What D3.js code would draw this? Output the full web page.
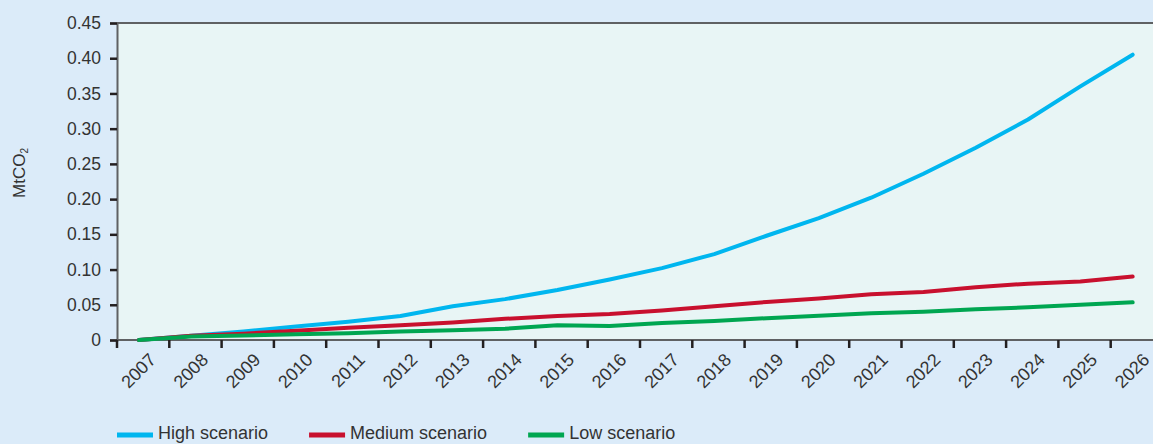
<!DOCTYPE html>
<html>
<head>
<meta charset="utf-8">
<script src="https://cdn.jsdelivr.net/npm/d3@7"></script>
<style>
  html, body { margin: 0; padding: 0; background: #dbebf9; }
  svg { display: block; font-family: "Liberation Sans", Arial, sans-serif; }
</style>
</head>
<body>
<div id="chart"></div>
<script>
// CO2 savings scenarios, 2007-2026 (MtCO2)
const years = d3.range(2007, 2027);
const highScenario = [0, 0.006, 0.012, 0.019, 0.026, 0.034, 0.048, 0.058, 0.071, 0.086,
                      0.102, 0.122, 0.148, 0.173, 0.202, 0.236, 0.273, 0.313, 0.360, 0.405];
const mediumScenario = [0, 0.006, 0.009, 0.013, 0.0175, 0.021, 0.025, 0.030, 0.034, 0.037,
                        0.042, 0.048, 0.054, 0.059, 0.065, 0.068, 0.075, 0.080, 0.083, 0.090];
const lowScenario = [0, 0.005, 0.0065, 0.008, 0.0095, 0.012, 0.014, 0.016, 0.021, 0.020,
                     0.024, 0.027, 0.031, 0.0345, 0.038, 0.040, 0.0435, 0.0465, 0.050, 0.0535];
const yTicks = [0, 0.05, 0.10, 0.15, 0.20, 0.25, 0.30, 0.35, 0.40, 0.45];

const series = [
    { name: 'High scenario', values: highScenario, color: '#00b6ef' },
    { name: 'Medium scenario', values: mediumScenario, color: '#c8102e' },
    { name: 'Low scenario', values: lowScenario, color: '#00a651' }
];

const W = 1153, H = 444;
const margin = { top: 23, left: 117, bottom: 104 };
const plotBottom = H - margin.bottom;

const svg = d3.select('#chart').append('svg')
    .attr('width', W).attr('height', H);

// x: one band per year, tick at band start, point a little right of it
const x = d3.scaleBand()
    .domain(years)
    .range([margin.left, margin.left + 20 * 52.3])
    .padding(0);
const px = yr => x(yr) + x.bandwidth() * 0.42;

const y = d3.scaleLinear().domain([0, 0.45]).range([plotBottom, margin.top]);

// plot background
svg.append('rect')
    .attr('x', margin.left).attr('y', margin.top)
    .attr('width', W - margin.left + 10).attr('height', plotBottom - margin.top)
    .attr('fill', '#e8f5f5');

// top border
svg.append('line')
    .attr('x1', margin.left).attr('x2', W)
    .attr('y1', margin.top).attr('y2', margin.top)
    .attr('stroke', '#5f6163').attr('stroke-width', 2);

// y axis
const yAxis = svg.append('g')
    .attr('transform', `translate(${margin.left},0)`)
    .call(d3.axisLeft(y).tickValues(yTicks).tickSize(7).tickPadding(9)
        .tickFormat(d => d === 0 ? '0' : d3.format('.2f')(d)));
yAxis.select('.domain').attr('stroke', '#5f6163').attr('stroke-width', 2);
yAxis.selectAll('.tick line').attr('stroke', '#231f20').attr('stroke-width', 2.5);
yAxis.selectAll('.tick text')
    .attr('fill', '#333').style('font-size', '17.5px').style('font-family', '"Liberation Sans", Arial, sans-serif');

// x axis
const xAxis = svg.append('g')
    .attr('transform', `translate(0,${plotBottom})`);
xAxis.append('line')
    .attr('x1', margin.left).attr('x2', W)
    .attr('stroke', '#5f6163').attr('stroke-width', 2);
xAxis.selectAll('.xtick')
    .data(years)
    .enter().append('line')
    .attr('class', 'xtick')
    .attr('x1', d => x(d)).attr('x2', d => x(d))
    .attr('y1', 0).attr('y2', 8)
    .attr('stroke', '#231f20').attr('stroke-width', 2.5);
xAxis.selectAll('.xlabel')
    .data(years)
    .enter().append('text')
    .attr('class', 'xlabel')
    .attr('transform', d => `translate(${px(d) + 18},21) rotate(-45)`)
    .attr('text-anchor', 'end')
    .attr('fill', '#333')
    .style('font-size', '18px')
    .text(d => d);

// y title
svg.append('text')
    .attr('transform', 'translate(25,173) rotate(-90)')
    .attr('text-anchor', 'middle')
    .attr('fill', '#333')
    .style('font-size', '17px')
    .text('MtCO')
    .append('tspan')
    .attr('dy', 3)
    .style('font-size', '10px')
    .text('2');

// lines
const line = d3.line()
    .x((d, i) => px(years[i]))
    .y(d => y(d));

svg.append('g').selectAll('path')
    .data(series)
    .enter().append('path')
    .attr('d', d => line(d.values))
    .attr('fill', 'none')
    .attr('stroke', d => d.color)
    .attr('stroke-width', 4)
    .attr('stroke-linecap', 'round')
    .attr('stroke-linejoin', 'round');

// legend
const legend = svg.append('g').attr('transform', `translate(${margin.left},435)`);
let lx = 0;
series.forEach(s => {
    const item = legend.append('g').attr('transform', `translate(${lx},0)`);
    item.append('line')
        .attr('x1', 0).attr('x2', 36)
        .attr('stroke', s.color).attr('stroke-width', 5);
    const t = item.append('text')
        .attr('x', 41).attr('y', 4)
        .attr('fill', '#333')
        .style('font-size', '18px')
        .text(s.name);
    lx += 41 + t.node().getComputedTextLength() + 41;
});
</script>
</body>
</html>
